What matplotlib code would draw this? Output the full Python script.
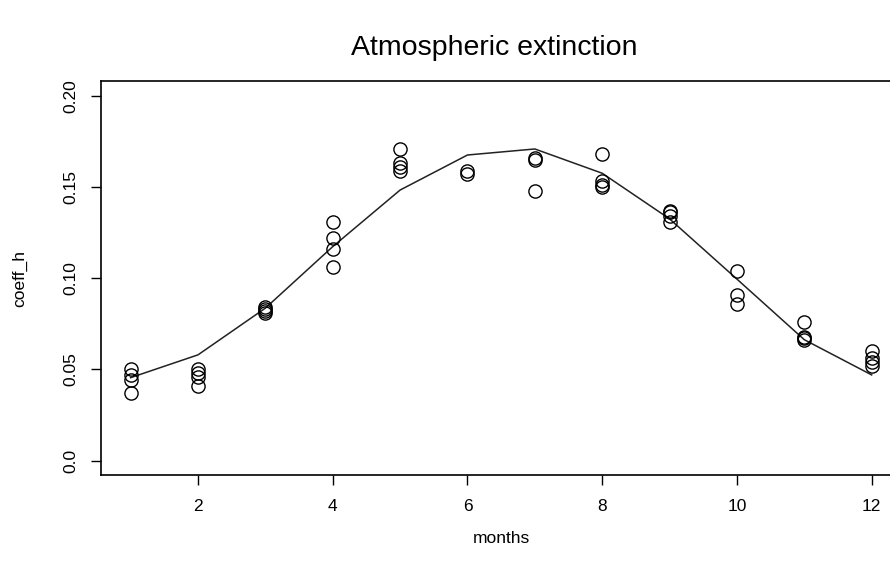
import matplotlib
matplotlib.use("Agg")
import matplotlib.pyplot as plt

plt.rcParams['font.family'] = ['Liberation Sans', 'DejaVu Sans']

# observed coefficients per month
obs_months = [1, 1, 1, 1,
              2, 2, 2, 2,
              3, 3, 3, 3,
              4, 4, 4, 4,
              5, 5, 5, 5,
              6, 6,
              7, 7, 7,
              8, 8, 8, 8,
              9, 9, 9, 9,
              10, 10, 10,
              11, 11, 11, 11,
              12, 12, 12, 12]
obs_coeff = [0.050, 0.047, 0.044, 0.037,
             0.050, 0.048, 0.046, 0.041,
             0.084, 0.083, 0.082, 0.081,
             0.131, 0.122, 0.116, 0.106,
             0.171, 0.163, 0.161, 0.159,
             0.159, 0.157,
             0.166, 0.165, 0.148,
             0.168, 0.153, 0.151, 0.150,
             0.137, 0.136, 0.134, 0.131,
             0.104, 0.091, 0.086,
             0.076, 0.068, 0.067, 0.066,
             0.060, 0.056, 0.054, 0.052]

# fitted curve
fit_months = [1, 2, 3, 4, 5, 6, 7, 8, 9, 10, 11, 12]
fit_coeff = [0.0455, 0.058, 0.0836, 0.1173, 0.1483, 0.1675, 0.1708,
             0.1575, 0.1325, 0.0995, 0.0663, 0.047]

xticks = [2, 4, 6, 8, 10, 12]
yticks = [0.0, 0.05, 0.10, 0.15, 0.20]
ytick_labels = ["0.0", "0.05", "0.10", "0.15", "0.20"]

fig = plt.figure(figsize=(8.9, 5.71), dpi=100)
ax = fig.add_axes([0.1135, 0.1676, 0.8992, 0.6904])

ax.plot(fit_months, fit_coeff, color='#222222', lw=1.1)
ax.plot(obs_months, obs_coeff, linestyle='none', marker='o', markersize=9.5,
        markerfacecolor='none', markeredgecolor='black', markeredgewidth=1.0)

ax.set_xlim(0.56, 12.44)
ax.set_ylim(-0.008, 0.208)
ax.set_xticks(xticks)
ax.set_xticklabels([str(t) for t in xticks])
ax.set_yticks(yticks)
ax.set_yticklabels(ytick_labels, rotation=90, va='center')
ax.tick_params(axis='both', direction='out', length=7, width=1, labelsize=12.5, color='black')
ax.tick_params(axis='x', pad=10)
ax.tick_params(axis='y', pad=9)

for s in ax.spines.values():
    s.set_linewidth(1.2)
    s.set_color('black')

ax.set_xlabel('months', fontsize=12.5, labelpad=12)
ax.set_ylabel('coeff_h', fontsize=12.5, labelpad=26)
fig.text(0.555, 0.916, 'Atmospheric extinction', ha='center', va='center', fontsize=20.5)

fig.savefig('out.png', dpi=100)
